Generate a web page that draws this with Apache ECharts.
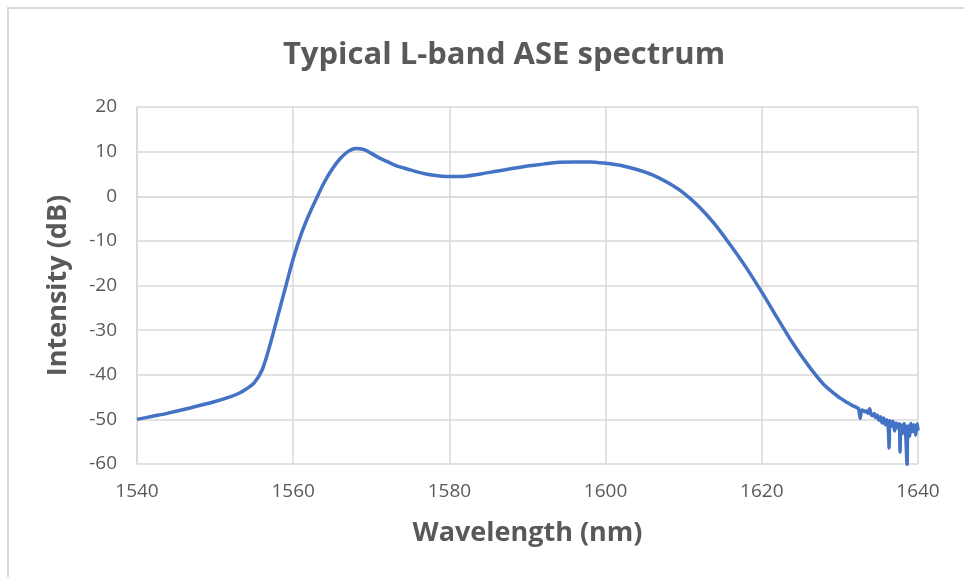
<!DOCTYPE html>
<html>
<head>
<meta charset="utf-8">
<script src="https://cdn.jsdelivr.net/npm/echarts@6/dist/echarts.min.js"></script>
<style>html,body{margin:0;padding:0;background:#fff}#c{width:964px;height:577px}</style>
</head>
<body>
<div id="c"></div>
<script>
const titleText = 'Typical L-band ASE spectrum';
const xName = 'Wavelength (nm)';
const yName = 'Intensity (dB)';
const xTicks = [1540, 1560, 1580, 1600, 1620, 1640];
const yTicks = [-60, -50, -40, -30, -20, -10, 0, 10, 20];

const wavelength = [
  1540, 1542, 1544, 1546, 1548, 1550, 1552, 1553, 1554, 1555,
  1556, 1557, 1558, 1559, 1560, 1561, 1562, 1563, 1564, 1565,
  1566, 1567, 1568, 1569, 1570, 1571, 1572, 1573, 1574, 1575,
  1576, 1577, 1578, 1579, 1580, 1581, 1582, 1584, 1586, 1588,
  1590, 1592, 1594, 1596, 1598, 1600, 1602, 1604, 1606, 1608,
  1610, 1612, 1614, 1616, 1618, 1620, 1622, 1624, 1626, 1628,
  1630, 1631, 1631.5, 1632, 1632.2, 1632.4, 1632.6, 1632.8, 1633, 1633.2,
  1633.4, 1633.6, 1633.8, 1634, 1634.2, 1634.4, 1634.6, 1634.8, 1635, 1635.2,
  1635.4, 1635.6, 1635.8, 1636, 1636.2, 1636.3, 1636.4, 1636.6, 1636.8, 1637,
  1637.2, 1637.4, 1637.6, 1637.7, 1637.8, 1638, 1638.2, 1638.4, 1638.6, 1638.7,
  1638.9, 1639.1, 1639.3, 1639.5, 1639.7, 1639.9, 1640
];
const intensity = [
  -50.0, -49.3, -48.6, -47.8, -46.9, -46.0, -44.9, -44.2, -43.2, -41.8,
  -39.0, -33.5, -27.0, -20.5, -14.0, -8.6, -4.2, -0.4, 3.2, 6.1,
  8.4, 10.0, 10.7, 10.5, 9.6, 8.6, 7.8, 7.0, 6.4, 5.9,
  5.4, 5.0, 4.7, 4.5, 4.4, 4.4, 4.5, 5.0, 5.6, 6.2,
  6.8, 7.2, 7.6, 7.7, 7.7, 7.4, 6.9, 6.0, 4.8, 3.0,
  0.7, -2.4, -6.3, -11.0, -16.0, -21.5, -27.3, -33.0, -38.0, -42.3,
  -45.2, -46.3, -46.8, -47.2, -47.4, -47.6, -49.8, -47.9, -48.0, -48.3,
  -48.1, -48.6, -47.6, -48.9, -49.2, -48.7, -49.6, -49.1, -50.2, -49.4,
  -50.8, -49.7, -51.2, -50.1, -52.0, -56.4, -50.3, -51.5, -50.4, -52.6,
  -50.8, -51.9, -51.0, -57.3, -51.2, -53.2, -50.9, -52.5, -60.2, -51.5,
  -53.8, -50.9, -52.7, -51.2, -53.5, -51.0, -52.5
];

const txt = '#595959';
const gridColor = '#D9D9D9';
const font = '"Open Sans", sans-serif';

const chart = echarts.init(document.getElementById('c'), null, {renderer: 'canvas'});
chart.setOption({
  backgroundColor: '#fff',
  animation: false,
  graphic: [{
    type: 'rect', silent: true,
    shape: {x: 8, y: 8, width: 1000, height: 620},
    style: {fill: 'none', stroke: gridColor, lineWidth: 2}
  }],
  title: {
    text: titleText,
    left: 499, top: 35, textAlign: 'center',
    textStyle: {color: txt, fontSize: 31, fontWeight: 'bold', fontFamily: font}
  },
  grid: {left: 137, right: 46, top: 107, bottom: 113, containLabel: false},
  xAxis: {
    type: 'value', min: xTicks[0], max: xTicks[xTicks.length - 1], interval: 20,
    name: xName, nameLocation: 'middle', nameGap: 56,
    nameTextStyle: {color: txt, fontSize: 27, fontWeight: 'bold', fontFamily: font},
    axisLine: {show: true, lineStyle: {color: gridColor, width: 1.5}},
    axisTick: {show: false},
    axisLabel: {color: txt, fontSize: 19, fontFamily: font, margin: 18, formatter: v => String(v)},
    splitLine: {show: true, lineStyle: {color: gridColor, width: 1.5}}
  },
  yAxis: {
    type: 'value', min: yTicks[0], max: yTicks[yTicks.length - 1], interval: 10,
    name: yName, nameLocation: 'middle', nameGap: 65,
    nameTextStyle: {color: txt, fontSize: 27, fontWeight: 'bold', fontFamily: font},
    axisLine: {show: true, lineStyle: {color: gridColor, width: 1.5}},
    axisTick: {show: false},
    axisLabel: {color: txt, fontSize: 19, fontFamily: font, margin: 20},
    splitLine: {show: true, lineStyle: {color: gridColor, width: 1.5}}
  },
  series: [{
    type: 'line',
    data: wavelength.map((w, i) => [w, intensity[i]]),
    showSymbol: false,
    smooth: 0.3,
    lineStyle: {color: '#4472C4', width: 3.5},
    itemStyle: {color: '#4472C4'}
  }]
});
</script>
</body>
</html>
